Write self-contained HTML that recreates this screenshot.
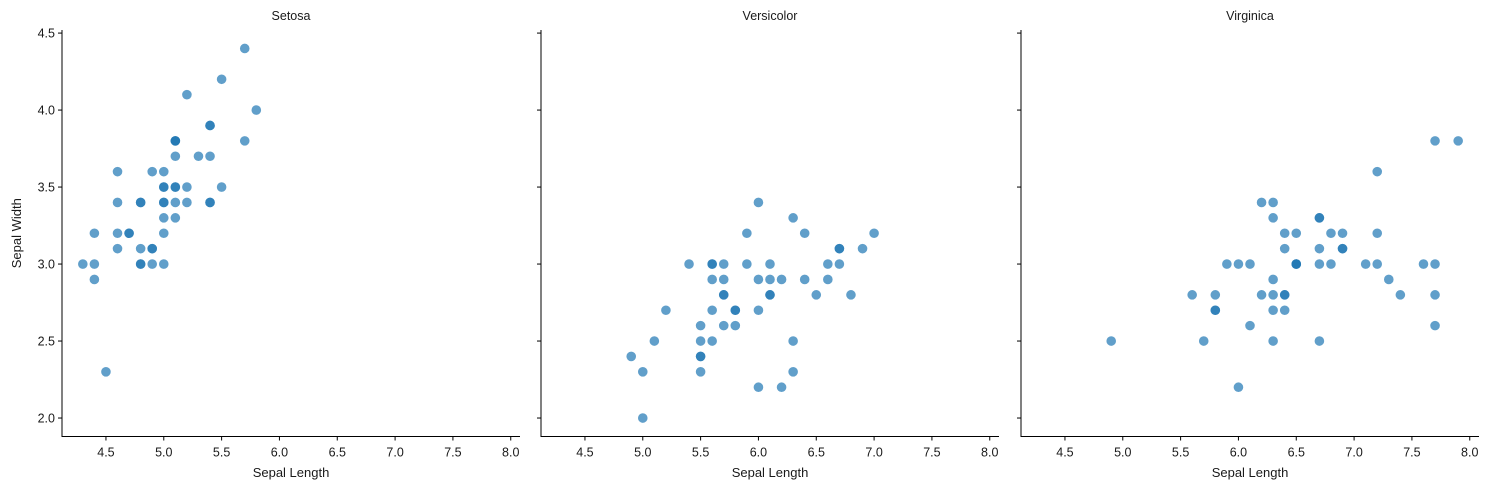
<!DOCTYPE html>
<html><head><meta charset="utf-8"><style>
html,body{margin:0;padding:0;background:#fff;}
svg{display:block;font-family:"Liberation Sans","DejaVu Sans",sans-serif;}
</style></head><body>
<svg id="chart" width="1489" height="490" xmlns="http://www.w3.org/2000/svg"></svg>
<script>
const speciesNames = ["Setosa","Versicolor","Virginica"];
const setosaX = [5.1,4.9,4.7,4.6,5.0,5.4,4.6,5.0,4.4,4.9,5.4,4.8,4.8,4.3,5.8,5.7,5.4,5.1,5.7,5.1,5.4,5.1,4.6,5.1,4.8,5.0,5.0,5.2,5.2,4.7,4.8,5.4,5.2,5.5,4.9,5.0,5.5,4.9,4.4,5.1,5.0,4.5,4.4,5.0,5.1,4.8,5.1,4.6,5.3,5.0];
const setosaY = [3.5,3.0,3.2,3.1,3.6,3.9,3.4,3.4,2.9,3.1,3.7,3.4,3.0,3.0,4.0,4.4,3.9,3.5,3.8,3.8,3.4,3.7,3.6,3.3,3.4,3.0,3.4,3.5,3.4,3.2,3.1,3.4,4.1,4.2,3.1,3.2,3.5,3.6,3.0,3.4,3.5,2.3,3.2,3.5,3.8,3.0,3.8,3.2,3.7,3.3];
const versicolorX = [7.0,6.4,6.9,5.5,6.5,5.7,6.3,4.9,6.6,5.2,5.0,5.9,6.0,6.1,5.6,6.7,5.6,5.8,6.2,5.6,5.9,6.1,6.3,6.1,6.4,6.6,6.8,6.7,6.0,5.7,5.5,5.5,5.8,6.0,5.4,6.0,6.7,6.3,5.6,5.5,5.5,6.1,5.8,5.0,5.6,5.7,5.7,6.2,5.1,5.7];
const versicolorY = [3.2,3.2,3.1,2.3,2.8,2.8,3.3,2.4,2.9,2.7,2.0,3.0,2.2,2.9,2.9,3.1,3.0,2.7,2.2,2.5,3.2,2.8,2.5,2.8,2.9,3.0,2.8,3.0,2.9,2.6,2.4,2.4,2.7,2.7,3.0,3.4,3.1,2.3,3.0,2.5,2.6,3.0,2.6,2.3,2.7,3.0,2.9,2.9,2.5,2.8];
const virginicaX = [6.3,5.8,7.1,6.3,6.5,7.6,4.9,7.3,6.7,7.2,6.5,6.4,6.8,5.7,5.8,6.4,6.5,7.7,7.7,6.0,6.9,5.6,7.7,6.3,6.7,7.2,6.2,6.1,6.4,7.2,7.4,7.9,6.4,6.3,6.1,7.7,6.3,6.4,6.0,6.9,6.7,6.9,5.8,6.8,6.7,6.7,6.3,6.5,6.2,5.9];
const virginicaY = [3.3,2.7,3.0,2.9,3.0,3.0,2.5,2.9,2.5,3.6,3.2,2.7,3.0,2.5,2.8,3.2,3.0,3.8,2.6,2.2,3.2,2.8,2.8,2.7,3.3,3.2,2.8,3.0,2.8,3.0,2.8,3.8,2.8,2.8,2.6,3.0,3.4,3.1,3.0,3.1,3.1,3.1,2.7,3.2,3.3,3.0,2.5,3.0,3.4,3.0];
const xTicks = [4.5,5.0,5.5,6.0,6.5,7.0,7.5,8.0];
const yTicks = [2.0,2.5,3.0,3.5,4.0,4.5];

const svg = document.getElementById('chart');
const NS = "http://www.w3.org/2000/svg";
const seriesX = [setosaX, versicolorX, virginicaX];
const seriesY = [setosaY, versicolorY, virginicaY];
const panelLeft = [62, 541, 1021], panelW = 458, plotTop = 30, plotBottom = 436.5;
const xmin = 4.12, xmax = 8.08, ymin = 1.88, ymax = 4.52;
function mk(tag, attrs, parent){const e=document.createElementNS(NS,tag);for(const k in attrs)e.setAttribute(k,attrs[k]);(parent||svg).appendChild(e);return e;}
function yScale(v){return plotBottom - (v-ymin)/(ymax-ymin)*(plotBottom-plotTop);}

speciesNames.forEach((name,p)=>{
  const L = panelLeft[p];
  const xScale = v => L + (v-xmin)/(xmax-xmin)*panelW;
  const g = mk('g',{});
  
  
  const t = mk('text',{x:L+panelW/2,y:20,'text-anchor':'middle','font-size':12.5,fill:'#1a1a1a'},g);
  t.textContent = name;
  
  
  const ax = mk('path',{d:`M${L},${plotTop} V${plotBottom} H${L+panelW}`,stroke:'#000','stroke-width':1,fill:'none'},g);
  
  
  xTicks.forEach(v=>{
    const x = xScale(v);
    mk('line',{x1:x,x2:x,y1:plotBottom,y2:plotBottom+4,stroke:'#000'},g);
    const tl = mk('text',{x:x,y:plotBottom+20,'text-anchor':'middle','font-size':12.5,fill:'#1a1a1a'},g);
    tl.textContent = v.toFixed(1);
    
    
  });
  yTicks.forEach(v=>{
    const y = yScale(v);
    mk('line',{x1:L-4,x2:L,y1:y,y2:y,stroke:'#000'},g);
    if(p===0){
      const tl = mk('text',{x:L-7,y:y+4.5,'text-anchor':'end','font-size':12.5,fill:'#1a1a1a'},g);
      tl.textContent = v.toFixed(1);
      
      
    }
  });
  const xl = mk('text',{x:L+panelW/2,y:477,'text-anchor':'middle','font-size':13,fill:'#1a1a1a'},g);
  xl.textContent = 'Sepal Length';
  
  
  seriesX[p].forEach((xv,i)=>{
    const c = mk('circle',{cx:xScale(xv),cy:yScale(seriesY[p][i]),r:4.3,fill:'#1f77b4',stroke:'#1f77b4','stroke-width':1,opacity:0.7},g);
    
    
  });
});
const yl = mk('text',{x:0,y:0,'text-anchor':'middle','font-size':13,fill:'#1a1a1a',transform:`translate(21,${(plotTop+plotBottom)/2}) rotate(-90)`});
yl.textContent = 'Sepal Width';


</script>
</body></html>
